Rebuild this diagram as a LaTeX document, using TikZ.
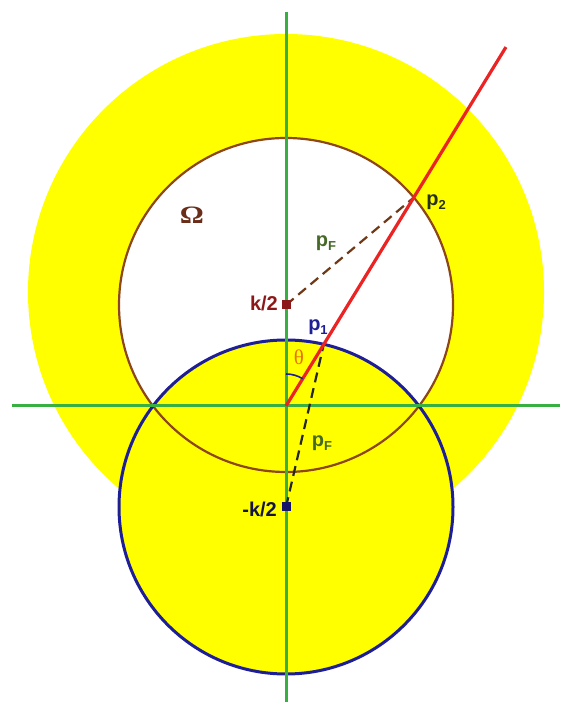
\documentclass[tikz,border=0pt]{standalone}
\usepackage{fontspec}
\setmainfont{Liberation Sans}
\newfontfamily\serifbold{Liberation Serif}
\usetikzlibrary{calc}
\definecolor{axisgreen}{RGB}{55,175,65}
\definecolor{rayred}{RGB}{235,35,35}
\definecolor{brownc}{RGB}{140,70,25}
\definecolor{bluec}{RGB}{30,30,150}
\definecolor{yel}{RGB}{255,255,0}
\definecolor{kred}{RGB}{140,25,25}
\definecolor{olivec}{RGB}{70,105,40}
\definecolor{darkol}{RGB}{40,50,20}
\definecolor{omegac}{RGB}{105,45,25}
\definecolor{thetac}{RGB}{230,115,0}
\definecolor{navyk}{RGB}{20,20,70}
\newcommand{\mysub}[2]{#1\raisebox{-0.45ex}{\fontsize{13}{13}\selectfont #2}}
\begin{document}
\begin{tikzpicture}[x=1pt,y=1pt,
  lbl/.style={font=\fontsize{20}{23}\selectfont\bfseries, inner sep=0pt},
  axisline/.style={axisgreen, line width=3pt},
  dot/.style={minimum size=9pt, inner sep=0pt}]
\useasboundingbox (0,0) rectangle (563,706);
\coordinate (O) at (286,300);
\coordinate (K) at (286,401);
\coordinate (M) at (286,199);
\coordinate (C) at (286,414);
% regions
\fill[yel] (C) circle[radius=258pt];
\fill[white] (K) circle[radius=167pt];
\fill[yel] (M) circle[radius=167pt];
\draw[brownc, line width=2.2pt] (K) circle[radius=167pt];
\draw[bluec, line width=3pt] (M) circle[radius=167pt];
% axes
\coordinate (vt) at (286,694);
\coordinate (vb) at (286,4);
\coordinate (hl) at (12,300);
\coordinate (hr) at (560,300);
\draw[axisline] (vb) -- (vt);
\draw[axisline] (hl) -- (hr);
% points on the ray
\coordinate (P1) at ($(O)+(58.5:72.3pt)$);
\coordinate (P2) at ($(O)+(58.5:244.5pt)$);
\coordinate (R) at ($(O)+(58.5:421pt)$);
% dashed radii
\draw[brownc!80!black, line width=2.2pt, dash pattern=on 10pt off 6pt] (K) -- (P2);
\draw[black!85, line width=2.2pt, dash pattern=on 10pt off 6pt] (M) -- (P1);
% ray
\draw[rayred, line width=3.2pt] (O) -- (R);
% angle arc
\draw[bluec, line width=1.6pt] ($(O)+(90:32pt)$) arc[start angle=90, end angle=58.5, radius=32pt];
% centre markers
\node[dot, fill=kred] (ksq) at (K) {};
\node[dot, fill=bluec!70!black] (msq) at (M) {};
% labels
\node[lbl, text=omegac, font=\serifbold\fontsize{25}{28}\selectfont\bfseries] (om) at (192,491) {\scalebox{1.2}[1]{Ω}};
\node[lbl, text=olivec] (pf1) at (326,463) {\mysub{p}{F}};
\node[lbl, text=darkol] (p2l) at (436,504) {\mysub{p}{2}};
\node[lbl, text=kred, anchor=east] (kl) at (278,403) {k/2};
\node[lbl, text=bluec] (p1l) at (318,379) {\mysub{p}{1}};
\node[lbl, text=thetac, font=\serifbold\fontsize{21}{24}\selectfont] (th) at (299,349) {θ};
\node[lbl, text=olivec] (pf2) at (322,263) {\mysub{p}{F}};
\node[lbl, text=navyk, anchor=east] (ml) at (277,197) {-k/2};
\end{tikzpicture}
\end{document}
